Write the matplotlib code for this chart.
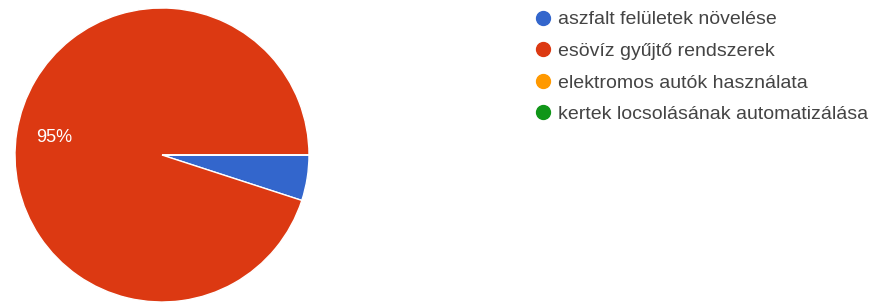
import matplotlib.pyplot as plt
from matplotlib.lines import Line2D

plt.rcParams['font.family'] = ['Liberation Sans', 'DejaVu Sans']

labels = ["aszfalt felületek növelése", "esövíz gyűjtő rendszerek",
          "elektromos autók használata", "kertek locsolásának automatizálása"]
values = [5, 95, 0, 0]
colors = ["#3366CC", "#DC3912", "#FF9900", "#109618"]

W, H = 878, 303
fig = plt.figure(figsize=(W / 100, H / 100), dpi=100)

# pie: center ~(162,155) px from top-left, radius ~147 px
r_px, cx, cy = 147, 162, 155
ax = fig.add_axes([(cx - r_px) / W, (H - cy - r_px) / H, 2 * r_px / W, 2 * r_px / H])
ax.pie(values, colors=colors, startangle=0, counterclock=False,
       autopct=lambda p: f"{p:.0f}%" if p > 10 else "", pctdistance=0.74,
       wedgeprops=dict(edgecolor="white", linewidth=1),
       textprops=dict(color="white", fontsize=13))
ax.set_xlim(-1, 1)
ax.set_ylim(-1, 1)
ax.set_aspect("equal")
ax.axis("off")

handles = [Line2D([], [], marker="o", linestyle="none", markersize=10,
                  markerfacecolor=c, markeredgecolor=c) for c in colors]
fig.legend(handles, labels, loc="upper left", bbox_to_anchor=(526 / W, 1 - 1 / H),
           frameon=False, fontsize=14, labelcolor="#444444",
           handlelength=0.8, handletextpad=0.35, labelspacing=0.72, borderpad=0)

fig.savefig("out.png", dpi=100)
